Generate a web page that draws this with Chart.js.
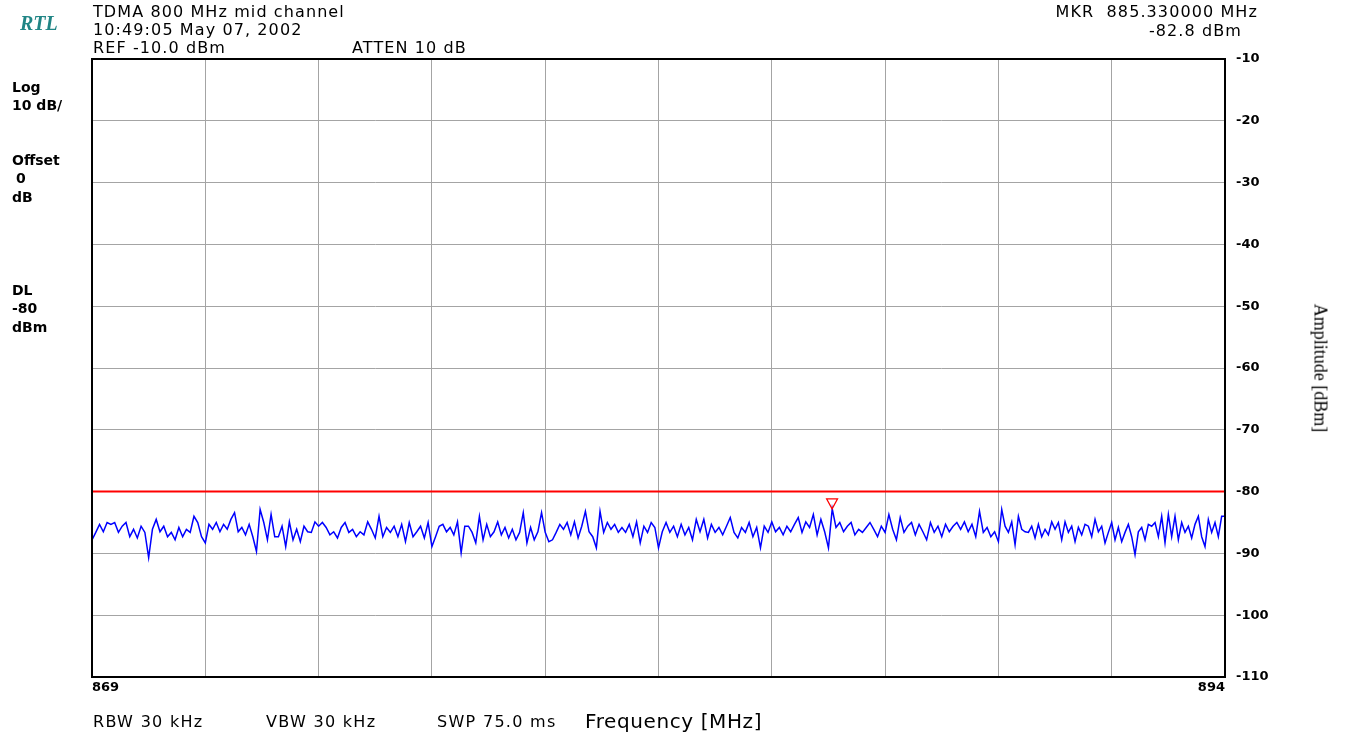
<!DOCTYPE html>
<html>
<head>
<meta charset="utf-8">
<script src="https://cdn.jsdelivr.net/npm/chart.js@4.4.1/dist/chart.umd.min.js"></script>
<style>
    body { margin: 0; background: #fff; }
    #wrap { position: relative; width: 1348px; height: 738px; overflow: hidden; }
    .lbl { position: absolute; white-space: nowrap; color: #000; font-family: "DejaVu Sans", sans-serif; }
    .hdr { font-size: 16px; line-height: 18px; letter-spacing: 1.1px; }
    .side { font-size: 14px; line-height: 16px; font-weight: bold; }
    .foot { font-size: 16px; line-height: 18px; letter-spacing: 1.3px; }
</style>
</head>
<body>
<div id="wrap">
    <canvas id="myChart" width="1348" height="738"></canvas>

    <div class="lbl" style="left:20px; top:12px; font:italic bold 20px 'Liberation Serif', serif; color:#208585;">RTL</div>

    <div class="lbl hdr" style="left:93px; top:3px;">TDMA 800 MHz mid channel</div>
    <div class="lbl hdr" style="left:93px; top:21px;">10:49:05 May 07, 2002</div>
    <div class="lbl hdr" style="left:93px; top:39px;">REF -10.0 dBm</div>
    <div class="lbl hdr" style="left:352px; top:39px;">ATTEN 10 dB</div>
    <div class="lbl hdr" style="right:90px; top:3px;">MKR&nbsp; 885.330000 MHz</div>
    <div class="lbl hdr" style="right:106px; top:22px;">-82.8 dBm</div>

    <div class="lbl side" style="left:12px; top:79px;">Log</div>
    <div class="lbl side" style="left:12px; top:97px;">10 dB/</div>
    <div class="lbl side" style="left:12px; top:152px;">Offset</div>
    <div class="lbl side" style="left:16px; top:170px;">0</div>
    <div class="lbl side" style="left:12px; top:189px;">dB</div>
    <div class="lbl side" style="left:12px; top:282px;">DL</div>
    <div class="lbl side" style="left:12px; top:300px;">-80</div>
    <div class="lbl side" style="left:12px; top:319px;">dBm</div>

    <div class="lbl foot" style="left:93px; top:713px;">RBW 30 kHz</div>
    <div class="lbl foot" style="left:266px; top:713px;">VBW 30 kHz</div>
    <div class="lbl foot" style="left:437px; top:713px;">SWP 75.0 ms</div>
    <div class="lbl" style="left:585px; top:709px; font-size:20px; line-height:24px; letter-spacing:0.6px;">Frequency [MHz]</div>

    <div class="lbl" style="left:1320px; top:368px; font:18px 'Liberation Serif', serif; transform:translate(-50%,-50%) rotate(90deg);">Amplitude [dBm]</div>
</div>

<script>
// sweep settings
const startFreq = 869;
const stopFreq = 894;
const divWidth = 2.5;
const refLevel = -10;
const bottomLevel = -110;
const displayLine = -80;
const markerFreq = 885.33;
const markerAmp = -82.8;

// trace amplitudes (dBm), read per horizontal grid division
const ampDiv1 = [-87.8,-86.6,-85.3,-86.5,-85.0,-85.3,-85.0,-86.6,-85.6,-85.0,-87.3,-86.1,-87.5,-85.6,-86.6,-90.7,-86.1,-84.5,-86.5,-85.6,-87.3,-86.6,-87.8,-85.8,-87.3,-86.1,-86.6,-84.0,-85.0,-87.3];
const ampDiv2 = [-88.3,-85.3,-86.1,-85.0,-86.5,-85.3,-86.1,-84.5,-83.4,-86.5,-85.8,-87.0,-85.3,-87.3,-89.7,-82.9,-85.0,-87.8,-83.7,-87.3,-87.3,-85.6,-88.9,-84.9,-87.8,-86.1,-88.1,-85.6,-86.5,-86.6,-84.9];
const ampDiv3 = [-85.6,-85.0,-85.8,-87.0,-86.5,-87.5,-85.8,-85.0,-86.6,-86.1,-87.3,-86.5,-87.0,-84.9,-86.1,-87.5,-84.0,-87.3,-85.8,-86.6,-85.6,-87.3,-85.3,-88.1,-85.0,-87.3,-86.5,-85.6,-87.5,-85.0];
const ampDiv4 = [-88.9,-87.3,-85.6,-85.3,-86.5,-85.8,-87.0,-84.9,-89.9,-85.6,-85.6,-86.6,-88.3,-84.0,-87.8,-85.3,-87.3,-86.5,-84.9,-87.0,-85.8,-87.5,-86.1,-87.8,-86.6,-83.4,-88.3,-85.8,-87.8,-86.5,-83.4];
const ampDiv5 = [-86.6,-88.1,-87.8,-86.6,-85.3,-86.1,-85.0,-87.0,-84.9,-87.5,-85.6,-83.2,-86.5,-87.3,-89.1,-83.2,-86.6,-85.0,-86.1,-85.3,-86.6,-85.8,-86.6,-85.3,-87.3,-84.9,-88.3,-85.6,-86.6,-85.0,-85.8];
const ampDiv6 = [-89.1,-86.5,-85.0,-86.6,-85.6,-87.3,-85.3,-87.0,-85.8,-87.8,-84.5,-86.5,-84.5,-87.5,-85.3,-86.6,-85.8,-87.0,-85.6,-84.2,-86.6,-87.5,-85.8,-86.6,-85.0,-87.3,-85.8,-89.1,-85.6,-86.6];
const ampDiv7 = [-84.9,-86.5,-85.8,-87.0,-85.6,-86.5,-85.3,-84.2,-86.6,-84.9,-85.8,-83.7,-87.0,-84.5,-86.5,-89.1,-82.8,-85.8,-85.0,-86.5,-85.6,-85.0,-87.0,-86.1,-86.6,-85.8,-85.0,-86.1,-87.3,-85.6];
const ampDiv8 = [-86.6,-83.7,-86.1,-87.8,-84.2,-86.6,-85.6,-85.0,-87.0,-85.3,-86.5,-87.8,-85.0,-86.6,-85.6,-87.3,-85.3,-86.5,-85.6,-85.0,-86.1,-84.9,-86.5,-85.3,-87.3,-83.2,-86.6,-85.8,-87.3,-86.5];
const ampDiv9 = [-88.1,-82.9,-85.6,-86.6,-84.9,-88.6,-84.0,-86.1,-86.5,-86.6,-85.6,-87.5,-85.3,-87.3,-86.1,-87.0,-84.9,-86.1,-85.0,-87.8,-84.9,-86.6,-85.6,-88.1,-85.8,-87.0,-85.3,-85.6,-87.3,-84.5,-86.5,-85.6,-88.3,-86.6];
const ampDiv10 = [-85.0,-87.8,-85.8,-88.1,-86.6,-85.3,-87.3,-90.2,-86.5,-85.8,-87.8,-85.3,-85.6,-85.0,-87.3,-84.0,-88.3,-83.7,-87.3,-84.0,-87.8,-85.0,-86.6,-85.6,-87.5,-85.3,-84.0,-87.3,-88.9,-84.5,-86.6,-85.0,-87.3,-84.0];

const divisions = [ampDiv1, ampDiv2, ampDiv3, ampDiv4, ampDiv5, ampDiv6, ampDiv7, ampDiv8, ampDiv9, ampDiv10];

// spread the samples of each division evenly over its 2.5 MHz
let tracePoints = [];
for (var d = 0; d < divisions.length; d++) {
    let amps = divisions[d];
    let f0 = startFreq + d * divWidth;
    for (var i = 0; i < amps.length; i++) {
        tracePoints.push({ x: f0 + i / amps.length * divWidth, y: amps[i] });
    }
}
tracePoints.push({ x: stopFreq, y: ampDiv10[ampDiv10.length - 1] });

const gridColor = '#a4a4a4';

// black frame round the graticule and the red marker triangle
const analyzerPlugin = {
    id: 'analyzer',
    afterDatasetsDraw(chart) {
        const c = chart.ctx;
        const a = chart.chartArea;
        const xs = chart.scales.x;
        const ys = chart.scales.y;

        c.save();
        let mx = xs.getPixelForValue(markerFreq);
        let my = ys.getPixelForValue(markerAmp);
        c.strokeStyle = '#ff0000';
        c.lineWidth = 1.2;
        c.beginPath();
        c.moveTo(mx, my);
        c.lineTo(mx - 5.5, my - 10);
        c.lineTo(mx + 5.5, my - 10);
        c.closePath();
        c.stroke();

        c.strokeStyle = '#000';
        c.lineWidth = 2;
        c.strokeRect(a.left, a.top, a.right - a.left, a.bottom - a.top);
        c.restore();
    }
};

const ctx = document.getElementById('myChart').getContext('2d');

let myChart = new Chart(ctx, {
    type: 'line',
    data: {
        datasets: [{
            label: 'trace',
            data: tracePoints,
            borderColor: '#0000ff',
            borderWidth: 1.5,
            pointRadius: 0,
            tension: 0
        }, {
            label: 'DL',
            data: [{ x: startFreq, y: displayLine }, { x: stopFreq, y: displayLine }],
            borderColor: '#ff0000',
            borderWidth: 2,
            pointRadius: 0
        }]
    },
    options: {
        responsive: false,
        animation: false,
        layout: {
            padding: { left: 92, top: 59, right: 0, bottom: 0 }
        },
        plugins: {
            legend: { display: false },
            tooltip: { enabled: false }
        },
        scales: {
            x: {
                type: 'linear',
                min: startFreq,
                max: stopFreq,
                afterFit: function (scale) { scale.height = 61; },
                grid: { color: gridColor, lineWidth: 1, drawTicks: false },
                border: { display: false },
                ticks: {
                    stepSize: divWidth,
                    autoSkip: false,
                    maxRotation: 0,
                    align: 'inner',
                    padding: 3,
                    color: '#000',
                    font: { family: 'DejaVu Sans', size: 13, weight: 'bold' },
                    callback: function (v) {
                        return (v === startFreq || v === stopFreq) ? String(v) : '';
                    }
                }
            },
            y: {
                position: 'right',
                min: bottomLevel,
                max: refLevel,
                afterFit: function (scale) { scale.width = 123; },
                grid: { color: gridColor, lineWidth: 1, drawTicks: false },
                border: { display: false },
                ticks: {
                    stepSize: 10,
                    padding: 11,
                    color: '#000',
                    font: { family: 'DejaVu Sans', size: 13, weight: 'bold' }
                }
            }
        }
    },
    plugins: [analyzerPlugin]
});
</script>
</body>
</html>
